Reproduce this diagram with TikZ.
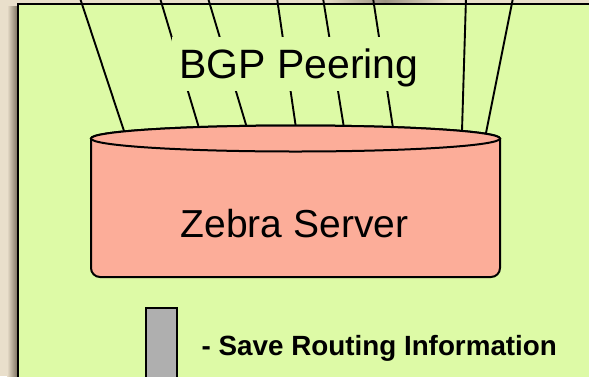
\documentclass[tikz,border=0pt]{standalone}
\usepackage{fontspec}
\setmainfont{Liberation Sans}
\definecolor{parch}{RGB}{233,223,203}
\definecolor{panel}{RGB}{221,250,166}
\definecolor{salmon}{RGB}{252,173,153}
\definecolor{bargray}{RGB}{175,175,175}
\definecolor{shadowc}{RGB}{130,118,100}
\tikzset{
  peer/.style={line width=1.9pt, black, shorten >=-8pt},
  cylbody/.style={line width=2pt, draw=black, fill=salmon},
}
\begin{document}
\begin{tikzpicture}[x=1pt,y=-1pt]
\useasboundingbox (0,0) rectangle (589,376);
\fill[parch] (0,0) rectangle (589,376);
% shadows
\shade[left color=parch, right color=shadowc] (7,6) rectangle (17,376);
\shade[left color=parch, right color=parch, middle color=shadowc!80] (320,0) rectangle (450,4);
% panel
\draw[line width=2.2pt, fill=panel] (18,4) rectangle (600,390);
% peering line ends
\coordinate (a1) at (80,-2);   \coordinate (a2) at (124,131);
\coordinate (b1) at (160,-2);  \coordinate (b2) at (199,128);
\coordinate (c1) at (208,-2);  \coordinate (c2) at (247,128);
\coordinate (d1) at (277,-2);  \coordinate (d2) at (296,128);
\coordinate (e1) at (323,-2);  \coordinate (e2) at (344,128);
\coordinate (f1) at (373,-2);  \coordinate (f2) at (393,128);
\coordinate (g1) at (466,-2);  \coordinate (g2) at (462,131);
\coordinate (h1) at (513,-2);  \coordinate (h2) at (486,133);
\foreach \p in {a,b,c,d,e,f,g,h} \draw[peer] (\p1) -- (\p2);
% label covering the lines
\node[anchor=base, fill=panel, inner xsep=7pt, inner ysep=3.5pt, text height=38pt, text depth=8.5pt,
      font=\fontsize{41}{46}\selectfont] (bgp) at (299,78.5) {BGP Peering};
% cylinder
\draw[cylbody] (91,138.5) -- (91,268) arc[start angle=180,end angle=90,radius=9]
  -- (491,277) arc[start angle=90,end angle=0,radius=9] -- (500,138.5)
  arc[start angle=0,end angle=-180,x radius=204.5,y radius=13] -- cycle;
\draw[cylbody] (295.5,138.5) ellipse [x radius=204.5, y radius=13];
\node[anchor=base, font=\fontsize{39}{44}\selectfont] (zebra) at (294.5,237) {Zebra Server};
% bar and caption
\draw[line width=1.8pt, fill=bargray] (146,308) rectangle (177,390);
\node[anchor=base west, inner sep=0pt, font=\bfseries\fontsize{27.8}{32}\selectfont] (save) at (201.5,355) {- Save Routing Information};
\end{tikzpicture}
\end{document}
